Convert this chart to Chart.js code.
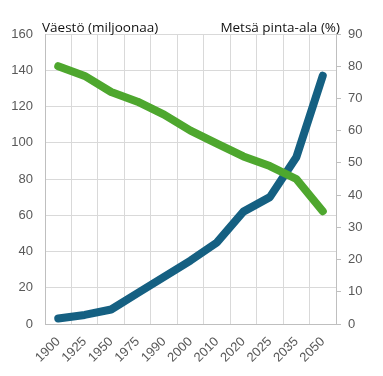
<!DOCTYPE html>
<html><head><meta charset="utf-8">
<script src="https://cdn.jsdelivr.net/npm/chart.js@4"></script>
<style>html,body{margin:0;padding:0;background:#fff}</style>
</head><body>
<canvas id="c" width="383" height="376"></canvas>
<script>
const years = ['1900','1925','1950','1975','1990','2000','2010','2020','2025','2035','2050'];
const population = [3, 5, 8, 17, 26, 35, 45, 62, 70, 92, 137];
const forestCover = [80, 77, 72, 69, 65, 60, 56, 52, 49, 45, 35];
const leftTitle = 'Väestö (miljoonaa)';
const rightTitle = 'Metsä pinta-ala (%)';

const tickFont = {family: '"Liberation Sans", Arial, sans-serif', size: 13};
const tickColor = '#595959';

const axisTitles = {
  id: 'axisTitles',
  afterDraw(chart) {
    const {ctx, chartArea: a} = chart;
    ctx.save();
    ctx.font = '13.5px "Open Sans", sans-serif';
    ctx.fillStyle = '#111111';
    ctx.textBaseline = 'alphabetic';
    ctx.textAlign = 'left';
    ctx.fillText(leftTitle, a.left - 3, a.top - 2);
    ctx.textAlign = 'right';
    ctx.fillText(rightTitle, a.right + 4, a.top - 2);
    ctx.restore();
  }
};

new Chart(document.getElementById('c'), {
  type: 'line',
  data: {
    labels: years,
    datasets: [
      {label: rightTitle, data: forestCover, yAxisID: 'y1', order: 0,
       borderColor: '#4ea72e', backgroundColor: '#4ea72e', borderWidth: 8,
       borderCapStyle: 'round', borderJoinStyle: 'round', pointRadius: 0, tension: 0},
      {label: leftTitle, data: population, yAxisID: 'y', order: 1,
       borderColor: '#156082', backgroundColor: '#156082', borderWidth: 8,
       borderCapStyle: 'round', borderJoinStyle: 'round', pointRadius: 0, tension: 0}
    ]
  },
  options: {
    responsive: false,
    animation: false,
    layout: {padding: {top: 34, left: 0, right: 0, bottom: 0}},
    plugins: {legend: {display: false}, tooltip: {enabled: false}},
    scales: {
      x: {
        offset: true,
        grid: {offset: true, color: '#d9d9d9', drawTicks: false},
        border: {color: '#bfbfbf'},
        ticks: {font: tickFont, color: tickColor, maxRotation: 45, minRotation: 45, padding: 10, autoSkip: false},
        afterFit(s) { s.height = 52; }
      },
      y: {
        position: 'left', min: 0, max: 160,
        grid: {color: '#d9d9d9', drawTicks: false},
        border: {color: '#bfbfbf'},
        ticks: {stepSize: 20, font: tickFont, color: tickColor, padding: 12},
        afterFit(s) { s.width = 45; }
      },
      y1: {
        position: 'right', min: 0, max: 90,
        grid: {drawOnChartArea: false, color: '#bfbfbf', tickLength: 5},
        border: {color: '#bfbfbf'},
        ticks: {stepSize: 10, font: tickFont, color: tickColor, padding: 7},
        afterFit(s) { s.width = 47; }
      }
    }
  },
  plugins: [axisTitles]
});
</script>
</body></html>
